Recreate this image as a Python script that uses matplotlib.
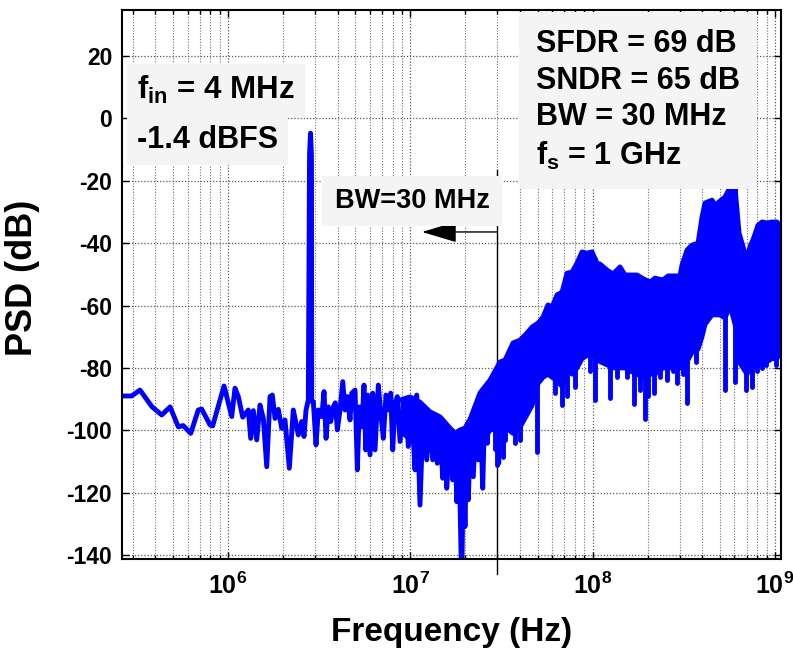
import numpy as np
import matplotlib.pyplot as plt
from matplotlib.ticker import NullLocator

plt.rcParams['font.family'] = ['Liberation Sans', 'DejaVu Sans']
plt.rcParams['font.weight'] = 'bold'
plt.rcParams['mathtext.fontset'] = 'custom'
plt.rcParams['mathtext.rm'] = 'Liberation Sans:bold'
plt.rcParams['mathtext.bf'] = 'Liberation Sans:bold'
plt.rcParams['mathtext.it'] = 'Liberation Sans:bold'
plt.rcParams['mathtext.default'] = 'regular'
plt.rcParams['axes.unicode_minus'] = False

# in-band part of the spectrum, read point by point (MHz, dB)
low_freq_mhz = [0.262, 0.296, 0.329, 0.382, 0.433, 0.481, 0.534, 0.568, 0.624, 0.687,
                0.717, 0.797, 0.824, 0.951, 1.048, 1.092, 1.139, 1.204, 1.292, 1.332,
                1.377, 1.437, 1.498, 1.562, 1.631, 1.700, 1.750, 1.811, 1.887, 1.971,
                2.054, 2.169, 2.281, 2.430, 2.537, 2.612, 2.679, 2.757, 2.800, 2.835,
                2.870, 2.878, 2.937, 3.039, 3.129, 3.266, 3.363, 3.449, 3.550, 3.660,
                3.782, 3.879, 3.978, 4.116, 4.259, 4.384, 4.513, 4.670, 4.772, 4.975,
                5.122, 5.252, 5.414, 5.572, 5.693, 5.839, 6.011, 6.219, 6.403, 6.676,
                6.881, 7.111, 7.357, 7.574, 7.807, 8.007, 8.243, 8.486, 8.781, 9.155,
                9.471, 9.750, 10.18, 10.61, 10.84, 11.30, 11.79, 12.30, 12.71, 13.27,
                13.66, 14.07, 14.56, 15.06, 15.50, 15.84, 16.51, 17.08, 17.59, 17.97,
                18.57, 19.14, 19.53, 19.95, 20.39, 20.81, 21.45, 22.16, 22.94, 23.60,
                24.12, 24.96, 25.70, 26.45, 27.37, 28.31, 29.15, 29.78, 30.54, 31.05]
low_psd_db = [-89.0, -89.0, -87.1, -92.4, -95.1, -92.5, -98.9, -98.5, -101.0, -93.5,
              -93.2, -98.3, -98.6, -85.8, -95.6, -86.5, -89.2, -95.8, -93.5, -102.6,
              -93.7, -103.1, -91.9, -96.2, -111.7, -89.2, -88.7, -96.2, -93.3, -99.4,
              -96.7, -112.2, -93.5, -101.5, -97.2, -102.0, -93.5, -90.3, -11.5, -4.7,
              -12.0, -90.8, -90.8, -104.7, -93.5, -95.6, -87.6, -102.6, -92.5, -97.2,
              -92.5, -91.2, -99.9, -93.5, -84.4, -93.5, -89.2, -96.7, -88.1, -87.1,
              -112.7, -92.5, -98.9, -85.5, -106.3, -88.7, -107.9, -88.1, -106.3, -85.5,
              -94.6, -102.6, -88.7, -93.5, -88.1, -106.3, -91.4, -89.2, -103.6, -92.5,
              -89.8, -105.2, -93.5, -112.7, -88.7, -124.0, -93.0, -109.5, -95.6, -109.5,
              -96.2, -110.6, -98.3, -115.4, -98.9, -118.6, -100.5, -115.9, -101.5, -122.9,
              -112.7, -150.0, -109.5, -130.9, -104.2, -122.3, -96.7, -114.9, -94.6, -109.5,
              -90.3, -118.6, -88.1, -104.2, -87.1, -83.9, -91.4, -82.8, -110.6, -82.3]

# dense (shaped noise) part: top and bottom of the solid band (MHz, dB)
band_freq_mhz = [8.78, 9.96, 11.30, 12.83, 14.56, 16.51, 17.59, 18.74, 19.95, 21.39,
                 24.12, 27.37, 31.05, 33.07, 36.60, 39.99, 43.67, 46.53, 50.18, 53.45,
                 56.93, 59.89, 63.79, 67.95, 72.38, 77.09, 82.11, 87.48, 93.18, 99.25,
                 105.7, 109.8, 119.9, 129.4, 141.3, 150.6, 160.4, 175.3, 186.6, 206.5,
                 219.9, 243.3, 259.2, 283.1, 301.6, 309.3, 329.5, 351.0, 378.6, 398.2,
                 413.6, 451.9, 469.3, 499.7, 532.3, 567.2, 604.1, 619.7, 635.6, 668.5,
                 703.1, 730.2, 768.1, 807.9, 849.8, 904.9, 964.0, 1027.0, 1080.0]
band_top_db = [-90.3, -89.3, -91.0, -94.1, -95.7, -99.3, -100.9, -99.9, -99.3, -96.1,
               -88.0, -83.9, -78.1, -77.5, -72.0, -71.1, -68.8, -66.9, -65.6, -63.7,
               -59.8, -60.5, -56.6, -55.7, -49.6, -49.3, -46.4, -42.8, -43.2, -42.8,
               -46.4, -46.7, -48.6, -49.9, -47.6, -50.2, -50.2, -50.2, -51.2, -52.5,
               -51.2, -51.8, -50.5, -50.5, -50.5, -47.0, -42.2, -40.6, -40.0, -31.6,
               -27.1, -26.2, -27.8, -26.5, -25.2, -22.0, -22.3, -29.4, -36.7, -41.2,
               -44.8, -41.2, -38.0, -34.2, -33.2, -33.5, -33.2, -33.2, -35.1]
band_bottom_db = [-100, -103, -102, -104, -106, -108, -115, -120, -118, -110,
                  -104, -100, -99, -99, -101, -99, -95, -92, -85, -83,
                  -82, -83, -84, -86, -80, -82, -80, -77, -76, -76,
                  -77, -78, -79, -80, -80, -80, -81, -82, -83, -82,
                  -82, -80, -80, -80, -80, -80, -78, -75, -74, -70,
                  -66, -63, -63, -63, -64, -60, -66, -70, -78, -80,
                  -82, -80, -80, -79, -78, -78, -77, -77, -74]

# single bins that dip below the band (MHz, dB)
dip_freq_mhz = [29.15, 29.90, 32.25, 33.07, 37.53, 39.99, 49.55, 62.20, 67.95, 72.20,
                80.07, 96.76, 103.1, 124.6, 136.1, 154.4, 168.7, 182.0, 193.9, 201.4,
                217.2, 234.3, 255.9, 276.1, 290.4, 313.2, 329.5, 369.2, 532.3, 604.1,
                694.2, 748.9, 797.7, 849.8, 893.6, 1014.0]
dip_db = [-106, -111, -108.5, -103, -104, -103, -107, -88, -92, -89,
          -86, -81, -90.3, -89.7, -83, -83, -91.6, -87, -96.5, -89,
          -88, -83, -84, -81, -85, -82, -91.4, -78, -87, -84.4,
          -87, -86, -81, -80, -79, -79]

bw_hz = 30e6
blue = '#0000ff'
box_color = '#f4f4f4'

fig = plt.figure(figsize=(7.93, 6.52), dpi=100)
ax = fig.add_axes([0.1538, 0.1426, 0.8311, 0.8421])

band_f = np.array(band_freq_mhz) * 1e6
ax.fill_between(band_f, band_bottom_db, band_top_db, color=blue, lw=0, zorder=2)
ax.plot(band_f, band_top_db, color=blue, lw=3.5, solid_joinstyle='round', zorder=2)
ax.plot(band_f, band_bottom_db, color=blue, lw=3.5, solid_joinstyle='round', zorder=2)
dip_f = np.array(dip_freq_mhz) * 1e6
ax.vlines(dip_f, dip_db, np.interp(dip_f, band_f, band_top_db),
          color=blue, lw=3.5, capstyle='round', zorder=2)
ax.plot(np.array(low_freq_mhz) * 1e6, low_psd_db, color=blue, lw=3.5,
        solid_joinstyle='round', zorder=2)

# bandwidth marker
ax.plot([bw_hz, bw_hz], [-16.5, -146], color='k', lw=1, clip_on=False, zorder=1.5)
ax.annotate('', xy=(1.16e7, -36.4), xytext=(bw_hz, -36.4),
            arrowprops=dict(arrowstyle='-|>,head_length=1.1,head_width=0.33',
                            color='k', lw=1, mutation_scale=20,
                            shrinkA=0, shrinkB=0))

ax.set_xscale('log')
ax.set_xlim(2.62e5, 1.08e9)
ax.set_ylim(-141.3, 34.8)
ax.set_yticks(np.arange(-140, 21, 20))
ax.yaxis.set_minor_locator(NullLocator())
ax.set_axisbelow(True)
ax.grid(which='major', color='0.35', linestyle=(0, (1, 1.5)), lw=0.9)
ax.grid(which='minor', axis='x', color='0.45', linestyle=(0, (1, 1.5)), lw=0.8)
ax.tick_params(which='both', direction='in', top=True, right=True, width=1)
ax.tick_params(which='major', length=5)
ax.tick_params(which='minor', length=3)
ax.tick_params(axis='y', pad=7, labelsize=16.5)
ax.tick_params(axis='x', pad=10, labelsize=18)
for s in ax.spines.values():
    s.set_linewidth(1.5)

ax.set_xlabel('Frequency (Hz)', fontsize=24, fontweight='bold', labelpad=13)
ax.set_ylabel('PSD (dB)', fontsize=26, fontweight='bold')
ax.yaxis.set_label_coords(-0.125, 0.512)

box = dict(boxstyle='square,pad=0.32', fc=box_color, ec='none')
ax.text(0.0228, 0.838, 'f$_{in}$ = 4 MHz', transform=ax.transAxes,
        fontsize=22.5, va='baseline', bbox=box)
ax.text(0.0228, 0.7486, '-1.4 dBFS', transform=ax.transAxes,
        fontsize=22, va='baseline', bbox=box)
ax.text(0.628, 0.966, 'SFDR = 69 dB\nSNDR = 65 dB\nBW = 30 MHz\nf$_s$ = 1 GHz',
        transform=ax.transAxes, fontsize=22, va='top', linespacing=1.3,
        bbox=dict(boxstyle='square,pad=0.55', fc=box_color, ec='none'))
ax.text(0.44, 0.652, 'BW=30 MHz', transform=ax.transAxes, fontsize=19.5,
        ha='center', va='center',
        bbox=dict(boxstyle='square,pad=0.45', fc=box_color, ec='none'))

fig.savefig('out.png', dpi=100)
